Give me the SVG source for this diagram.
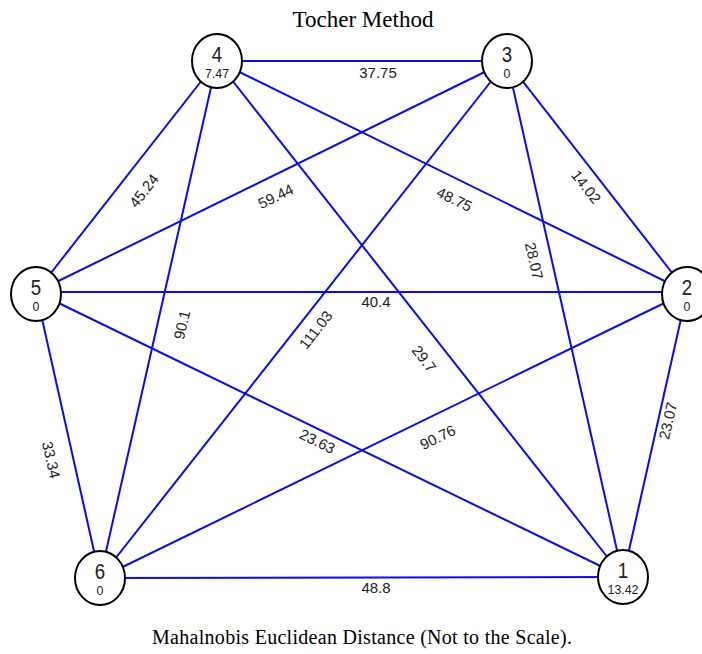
<svg xmlns="http://www.w3.org/2000/svg" width="702" height="654" viewBox="0 0 702 654">
<style>
.e{stroke:#0a0af0;stroke-width:2;fill:none}
.n{fill:#fff;stroke:#000;stroke-width:2}
.big{font-family:"Liberation Sans",Arial,sans-serif;font-size:22px;fill:#222;text-anchor:middle}
.sm{font-family:"Liberation Sans",Arial,sans-serif;font-size:13px;fill:#222;text-anchor:middle}
.lb{font-family:"Liberation Sans",Arial,sans-serif;font-size:15px;fill:#222;text-anchor:middle}
.ttl{font-family:"Liberation Serif","Times New Roman",serif;font-size:23px;fill:#000;text-anchor:middle}
.cap{font-family:"Liberation Serif","Times New Roman",serif;font-size:20px;fill:#000;text-anchor:middle}
</style>
<rect width="702" height="654" fill="#fff"/>
<text class="ttl" x="363" y="27">Tocher Method</text>
<g id="connectors">
<line class="e" x1="217" y1="61" x2="507" y2="61"/>
<line class="e" x1="507" y1="61" x2="687" y2="292"/>
<line class="e" x1="507" y1="61" x2="623" y2="577"/>
<line class="e" x1="507" y1="61" x2="36" y2="292"/>
<line class="e" x1="507" y1="61" x2="100" y2="578"/>
<line class="e" x1="217" y1="61" x2="36" y2="292"/>
<line class="e" x1="217" y1="61" x2="100" y2="578"/>
<line class="e" x1="217" y1="61" x2="687" y2="292"/>
<line class="e" x1="217" y1="61" x2="623" y2="577"/>
<line class="e" x1="36" y1="292" x2="687" y2="292"/>
<line class="e" x1="36" y1="292" x2="623" y2="577"/>
<line class="e" x1="36" y1="292" x2="100" y2="578"/>
<line class="e" x1="100" y1="578" x2="687" y2="292"/>
<line class="e" x1="100" y1="578" x2="623" y2="577"/>
<line class="e" x1="687" y1="292" x2="623" y2="577"/>
<text class="lb" x="378" y="78">37.75</text>
<text class="lb" transform="translate(582,190) rotate(52)">14.02</text>
<text class="lb" transform="translate(529,262) rotate(77)">28.07</text>
<text class="lb" transform="translate(278,201) rotate(-26)">59.44</text>
<text class="lb" transform="translate(320,333) rotate(-52)">111.03</text>
<text class="lb" transform="translate(148,194) rotate(-52)">45.24</text>
<text class="lb" transform="translate(187,326) rotate(-77)">90.1</text>
<text class="lb" transform="translate(452,204) rotate(26)">48.75</text>
<text class="lb" transform="translate(420,362) rotate(52)">29.7</text>
<text class="lb" x="376" y="307">40.4</text>
<text class="lb" transform="translate(440,442) rotate(-26)">90.76</text>
<text class="lb" transform="translate(315,446) rotate(26)">23.63</text>
<text class="lb" transform="translate(46,461) rotate(77)">33.34</text>
<text class="lb" transform="translate(673,422) rotate(-77)">23.07</text>
<text class="lb" x="376" y="593">48.8</text>
</g>
<g id="node4"><ellipse class="n" cx="217" cy="61" rx="25" ry="27"/><text class="big" transform="translate(217,62) scale(0.85,1)">4</text><text class="sm" transform="translate(217,78) scale(0.95,1)">7.47</text></g>
<g id="node3"><ellipse class="n" cx="507" cy="61" rx="25" ry="27"/><text class="big" transform="translate(507,62) scale(0.85,1)">3</text><text class="sm" transform="translate(507,78) scale(0.95,1)">0</text></g>
<g id="node5"><ellipse class="n" cx="36" cy="294" rx="25" ry="27"/><text class="big" transform="translate(36,295) scale(0.85,1)">5</text><text class="sm" transform="translate(36,311) scale(0.95,1)">0</text></g>
<g id="node2"><ellipse class="n" cx="687" cy="294" rx="25" ry="27"/><text class="big" transform="translate(687,295) scale(0.85,1)">2</text><text class="sm" transform="translate(687,311) scale(0.95,1)">0</text></g>
<g id="node6"><ellipse class="n" cx="100" cy="578" rx="25" ry="27"/><text class="big" transform="translate(100,579) scale(0.85,1)">6</text><text class="sm" transform="translate(100,595) scale(0.95,1)">0</text></g>
<g id="node1"><ellipse class="n" cx="623" cy="577" rx="25" ry="27"/><text class="big" transform="translate(623,578) scale(0.85,1)">1</text><text class="sm" transform="translate(623,594) scale(0.95,1)">13.42</text></g>
<text class="cap" x="362" y="644" textLength="420" lengthAdjust="spacing">Mahalnobis Euclidean Distance (Not to the Scale).</text>
</svg>
